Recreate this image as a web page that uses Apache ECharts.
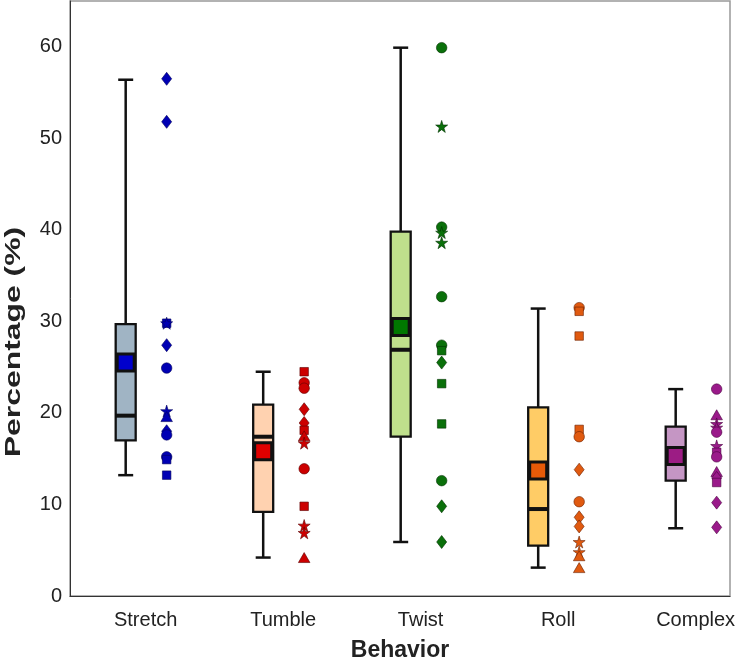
<!DOCTYPE html>
<html>
<head>
<meta charset="utf-8">
<script src="https://cdn.jsdelivr.net/npm/echarts@6/dist/echarts.min.js"></script>
<style>
html,body{margin:0;padding:0;background:#fff;}
#chart{width:735px;height:659px;}
</style>
</head>
<body>
<div id="chart"></div>
<script>
// ---- data ----
const categories = ['Stretch', 'Tumble', 'Twist', 'Roll', 'Complex'];
const yTicks = [0, 10, 20, 30, 40, 50, 60];
const xTitle = 'Behavior';
const yTitle = 'Percentage (%)';

const boxLow    = [13.2, 4.2, 5.9, 3.1, 7.4];
const boxQ1     = [17.0, 9.2, 17.4, 5.5, 12.6];
const boxMedian = [19.7, 17.4, 26.9, 9.5, 15.9];
const boxQ3     = [29.7, 20.9, 39.8, 20.6, 18.5];
const boxHigh   = [56.4, 24.5, 59.9, 31.4, 22.6];
const boxMean   = [25.5, 15.8, 29.4, 13.7, 15.3];

const stretchValues  = [56.5, 51.8, 29.8, 29.8, 27.4, 24.9, 20.2, 19.6, 18.0, 17.6, 15.2, 14.9, 13.2];
const stretchSymbols = ['diamond','diamond','square','star','diamond','circle','star','triangle','diamond','circle','circle','square','square'];

const tumbleValues  = [24.5, 23.3, 22.7, 20.4, 18.9, 18.1, 17.5, 16.7, 13.9, 9.8, 7.7, 6.9, 4.2];
const tumbleSymbols = ['square','circle','circle','diamond','diamond','square','triangle','star','circle','square','star','star','triangle'];

const twistValues  = [59.9, 51.3, 40.3, 39.7, 38.6, 32.7, 27.4, 26.8, 25.5, 23.2, 18.8, 12.6, 9.8, 5.9];
const twistSymbols = ['circle','star','circle','star','star','circle','circle','square','diamond','square','square','circle','diamond','diamond'];

const rollValues  = [31.5, 31.1, 28.4, 18.2, 17.4, 13.8, 10.3, 8.6, 7.6, 5.9, 4.8, 4.4, 3.1];
const rollSymbols = ['circle','square','square','square','circle','diamond','circle','diamond','diamond','star','star','triangle','triangle'];

const complexValues  = [22.6, 19.8, 18.8, 18.4, 17.9, 16.4, 15.7, 15.2, 13.6, 12.9, 12.4, 10.2, 7.5];
const complexSymbols = ['circle','triangle','star','star','circle','star','square','circle','triangle','diamond','square','diamond','diamond'];

// ---- styles ----
const boxFill   = ['#a0b4c4', '#ffd2b0', '#bfe08c', '#ffcc66', '#c596c4'];
const meanFill  = ['#0000cc', '#e00000', '#007800', '#e65a08', '#9c1c84'];
const dotFill   = ['#0000b4', '#cc0000', '#0a700a', '#e05a10', '#9a1a8a'];
const dotBorder = ['#00005a', '#5a0000', '#003000', '#6a2000', '#4a0040'];

const allValues  = [stretchValues, tumbleValues, twistValues, rollValues, complexValues];
const allSymbols = [stretchSymbols, tumbleSymbols, twistSymbols, rollSymbols, complexSymbols];

const BOX_OFF = -0.145;
const DOT_OFF = 0.153;
const STAR = 'path://M50,0 L61,35 L98,35 L68,57 L79,91 L50,70 L21,91 L32,57 L2,35 L39,35 Z';

const boxData = categories.map((c, i) => [i, boxLow[i], boxQ1[i], boxMedian[i], boxQ3[i], boxHigh[i], boxMean[i]]);

function renderBox(params, api) {
  const i = api.value(0);
  const x = i + BOX_OFF;
  const pLow = api.coord([x, api.value(1)]);
  const pQ1 = api.coord([x, api.value(2)]);
  const pMed = api.coord([x, api.value(3)]);
  const pQ3 = api.coord([x, api.value(4)]);
  const pHigh = api.coord([x, api.value(5)]);
  const pMean = api.coord([x, api.value(6)]);
  const cx = pLow[0];
  const hw = 10, cap = 7.5, mh = 8.5;
  const black = '#111';
  return {
    type: 'group',
    children: [
      { type: 'line', shape: { x1: cx, y1: pLow[1], x2: cx, y2: pHigh[1] }, style: { stroke: black, lineWidth: 2.5 } },
      { type: 'line', shape: { x1: cx - cap, y1: pLow[1], x2: cx + cap, y2: pLow[1] }, style: { stroke: black, lineWidth: 2.5 } },
      { type: 'line', shape: { x1: cx - cap, y1: pHigh[1], x2: cx + cap, y2: pHigh[1] }, style: { stroke: black, lineWidth: 2.5 } },
      { type: 'rect', shape: { x: cx - hw, y: pQ3[1], width: hw * 2, height: pQ1[1] - pQ3[1] }, style: { fill: boxFill[i], stroke: black, lineWidth: 2.3 } },
      { type: 'line', shape: { x1: cx - hw, y1: pMed[1], x2: cx + hw, y2: pMed[1] }, style: { stroke: black, lineWidth: 4 } },
      { type: 'rect', shape: { x: cx - mh, y: pMean[1] - mh, width: mh * 2, height: mh * 2 }, style: { fill: meanFill[i], stroke: black, lineWidth: 3 } }
    ]
  };
}

function symSize(sym) {
  if (sym === 'circle') return 10.5;
  if (sym === 'diamond') return [10, 13];
  if (sym === 'square') return 8.5;
  if (sym === 'triangle') return [11.5, 10];
  return 12;
}

const scatterSeries = categories.map((c, i) => ({
  type: 'scatter',
  name: c,
  z: 3,
  data: allValues[i].map((v, k) => ({
    value: [i + DOT_OFF, v],
    symbol: allSymbols[i][k] === 'star' ? STAR : allSymbols[i][k],
    symbolSize: symSize(allSymbols[i][k])
  })),
  itemStyle: { color: dotFill[i], borderColor: dotBorder[i], borderWidth: 0.6, opacity: 1 },
  emphasis: { disabled: true }
}));

const chart = echarts.init(document.getElementById('chart'), null, { renderer: 'canvas' });
chart.setOption({
  animation: false,
  backgroundColor: '#fff',
  grid: { left: 70, right: 5, top: 1, bottom: 63, show: true, borderColor: '#999', borderWidth: 1.5, backgroundColor: 'transparent', containLabel: false, outerBoundsMode: 'none' },
  graphic: [{
    type: 'text',
    x: 14,
    y: 342,
    rotation: Math.PI / 2,
    scaleX: 1.45,
    style: {
      text: yTitle,
      font: 'bold 22px "Liberation Sans"',
      fill: '#222',
      align: 'center',
      verticalAlign: 'middle'
    },
    silent: true
  }],
  xAxis: {
    type: 'value',
    min: -0.55,
    max: 4.25,
    splitLine: { show: false },
    axisTick: { show: false },
    axisLine: { show: true, onZero: false, lineStyle: { color: '#333', width: 1 } },
    axisLabel: {
      customValues: [0, 1, 2, 3, 4],
      formatter: v => categories[Math.round(v)],
      fontFamily: 'Liberation Sans', fontSize: 20, color: '#222', margin: 14
    },
    name: xTitle,
    nameLocation: 'middle',
    nameGap: 43,
    nameTextStyle: { fontFamily: 'Liberation Sans', fontSize: 23, fontWeight: 'bold', color: '#222' }
  },
  yAxis: {
    type: 'value',
    min: 0,
    max: 65,
    interval: 10,
    splitLine: { show: false },
    axisTick: { show: false },
    axisLine: { show: true, onZero: false, lineStyle: { color: '#333', width: 1 } },
    axisLabel: {
      customValues: yTicks,
      fontFamily: 'Liberation Sans', fontSize: 20, color: '#222', margin: 8
    }
  },
  series: [
    { type: 'custom', renderItem: renderBox, data: boxData, z: 2, encode: { x: 0, y: [1, 2, 3, 4, 5, 6] } }
  ].concat(scatterSeries)
});
</script>
</body>
</html>
